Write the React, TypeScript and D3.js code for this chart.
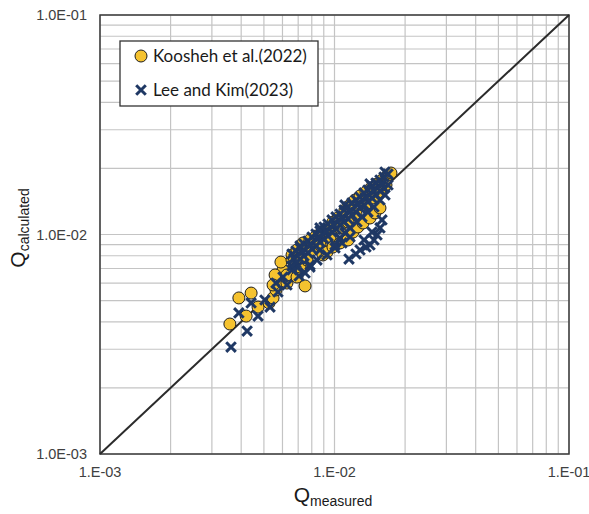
import React from "react";
import * as d3 from "d3";

// Koosheh et al.(2022): [Q_measured, Q_calculated]
const kooshehData: [number, number][] = [
  [0.00358, 0.00391], [0.00391, 0.00514], [0.0042, 0.00425], [0.00441, 0.00541],
  [0.00472, 0.00467], [0.00526, 0.00488], [0.00547, 0.00514], [0.00563, 0.00559],
  [0.00586, 0.00614], [0.00603, 0.00689], [0.00591, 0.00749], [0.00627, 0.00601],
  [0.00749, 0.00583], [0.00685, 0.00742],
  [0.00558, 0.00654], [0.00547, 0.00589], [0.00627, 0.00654], [0.00692, 0.0064],
  [0.00713, 0.00711], [0.00659, 0.00765], [0.00763, 0.00765], [0.00826, 0.00877],
  [0.00885, 0.00924], [0.00957, 0.00924],
  [0.00659, 0.00807], [0.00692, 0.0085], [0.00734, 0.00915], [0.00786, 0.00944],
  [0.00834, 0.00984], [0.00885, 0.01026], [0.00938, 0.01071], [0.00985, 0.0114],
  [0.01035, 0.01189], [0.01108, 0.01293], [0.01165, 0.01363], [0.01223, 0.01436],
  [0.01285, 0.01498], [0.01362, 0.01562], [0.01431, 0.01629], [0.01518, 0.01699],
  [0.01594, 0.01771], [0.01674, 0.01847], [0.01741, 0.01906],
  [0.00713, 0.00782], [0.00802, 0.0085], [0.00867, 0.00896], [0.00957, 0.00964],
  [0.01056, 0.01071], [0.01142, 0.0114], [0.01235, 0.0124], [0.01349, 0.01363],
  [0.01459, 0.01467], [0.01563, 0.01562], [0.01658, 0.01681],
  [0.00893, 0.00807], [0.00929, 0.00832], [0.00985, 0.00877], [0.01056, 0.00915],
  [0.01142, 0.00944], [0.01199, 0.01026], [0.01259, 0.01082], [0.01323, 0.01128],
  [0.01417, 0.01189], [0.01488, 0.01253], [0.01563, 0.01321],
];

// Lee and Kim(2023): [Q_measured, Q_calculated]
const leeKimData: [number, number][] = [
  [0.00362, 0.00307], [0.00424, 0.00363], [0.00391, 0.00439], [0.00441, 0.00488],
  [0.00472, 0.00425], [0.00531, 0.00467], [0.00627, 0.00589], [0.00574, 0.00547],
  [0.00505, 0.00503], [0.00603, 0.0064], [0.00659, 0.00689], [0.00563, 0.00601],
  [0.00706, 0.00647], [0.00786, 0.00726],
  [0.00692, 0.00711], [0.00749, 0.00668], [0.00786, 0.00711], [0.00842, 0.00765],
  [0.00929, 0.00807], [0.01005, 0.00868], [0.01076, 0.00915], [0.01165, 0.00974],
  [0.00867, 0.0085],
  [0.00713, 0.00887], [0.00867, 0.01071], [0.01108, 0.01363], [0.01417, 0.01699],
  [0.01642, 0.01926],
  [0.00659, 0.00815], [0.00659, 0.00719], [0.00685, 0.00841], [0.00685, 0.00742],
  [0.00713, 0.00868], [0.00713, 0.00773], [0.00741, 0.00905], [0.00741, 0.00798],
  [0.00771, 0.00934], [0.00771, 0.00824], [0.00802, 0.00974], [0.00802, 0.00859],
  [0.00834, 0.01005], [0.00834, 0.00887], [0.00867, 0.01037], [0.00867, 0.00924],
  [0.00902, 0.01082], [0.00902, 0.00954], [0.00938, 0.01116], [0.00938, 0.00984],
  [0.00976, 0.01165], [0.00976, 0.01026], [0.01015, 0.01202], [0.01015, 0.01059],
  [0.01056, 0.0124], [0.01056, 0.01105], [0.01098, 0.01293], [0.01098, 0.0114],
  [0.01142, 0.01335], [0.01142, 0.01177], [0.01187, 0.01392], [0.01187, 0.01227],
  [0.01235, 0.01436], [0.01235, 0.01266], [0.01285, 0.01482], [0.01285, 0.01321],
  [0.01336, 0.01546], [0.01336, 0.01363], [0.01389, 0.01595], [0.01389, 0.01407],
  [0.01445, 0.01663], [0.01445, 0.01467], [0.01503, 0.01716], [0.01503, 0.01514],
  [0.01563, 0.01771], [0.01563, 0.01579], [0.01626, 0.01828], [0.01626, 0.01629],
  [0.01691, 0.01886], [0.01691, 0.01681],
  [0.00672, 0.00777], [0.00727, 0.00834], [0.00786, 0.00896], [0.0085, 0.00962],
  [0.0092, 0.01033], [0.00995, 0.01109], [0.01076, 0.01192], [0.01165, 0.01279],
  [0.01259, 0.01374], [0.01362, 0.01476], [0.01473, 0.01585], [0.01594, 0.01702],
  [0.01005, 0.00896], [0.01056, 0.00964], [0.01108, 0.01016], [0.01165, 0.01071],
  [0.01247, 0.0114], [0.0131, 0.01202], [0.01389, 0.01266], [0.01473, 0.01335],
  [0.01563, 0.01436], [0.01642, 0.01514],
  [0.01153, 0.00773], [0.01235, 0.00815], [0.01285, 0.0085], [0.01362, 0.00877],
  [0.01417, 0.00896], [0.01473, 0.00944], [0.01518, 0.00995], [0.01563, 0.01071],
  [0.01594, 0.01165], [0.01336, 0.00944], [0.01445, 0.01026],
];

const xTickValues = [1e-3, 1e-2, 1e-1];
const xTickLabels = ["1.E-03", "1.E-02", "1.E-01"];
const yTickValues = [1e-3, 1e-2, 1e-1];
const yTickLabels = ["1.0E-03", "1.0E-02", "1.0E-01"];
const seriesNames = ["Koosheh et al.(2022)", "Lee and Kim(2023)"];

const W = 589;
const H = 514;
const plot = { left: 100, right: 569, top: 15, bottom: 454 };

const GOLD = "#F5C22F";
const NAVY = "#1F3864";
const CROSS = 4.8;
const CROSS_W = 3;
const R = 6;

function crossPath(cx: number, cy: number, s: number) {
  return `M${cx - s},${cy - s}L${cx + s},${cy + s}M${cx - s},${cy + s}L${cx + s},${cy - s}`;
}

export default function App() {
  const x = d3.scaleLog().domain([1e-3, 1e-1]).range([plot.left, plot.right]);
  const y = d3.scaleLog().domain([1e-3, 1e-1]).range([plot.bottom, plot.top]);

  const gridVals: number[] = [];
  for (const dec of [1e-3, 1e-2]) {
    for (let m = 1; m <= 9; m++) gridVals.push(dec * m);
  }
  gridVals.push(1e-1);

  return (
    <svg
      width={W}
      height={H}
      style={{ position: "absolute", left: 0, top: 0, background: "#fff" }}
      fontFamily="'Liberation Sans', Arial, sans-serif"
    >
      <rect x={0} y={0} width={W} height={H} fill="#fff" />
      {/* grid */}
      <g stroke="#c4c4c4" strokeWidth={1.2}>
        {gridVals.map((v, i) => (
          <line key={"gx" + i} x1={x(v)} x2={x(v)} y1={plot.top} y2={plot.bottom} />
        ))}
        {gridVals.map((v, i) => (
          <line key={"gy" + i} x1={plot.left} x2={plot.right} y1={y(v)} y2={y(v)} />
        ))}
      </g>
      {/* frame */}
      <rect
        x={plot.left}
        y={plot.top}
        width={plot.right - plot.left}
        height={plot.bottom - plot.top}
        fill="none"
        stroke="#3a3a3a"
        strokeWidth={1.5}
      />
      {/* 1:1 line */}
      <line x1={x(1e-3)} y1={y(1e-3)} x2={x(1e-1)} y2={y(1e-1)} stroke="#2b2b2b" strokeWidth={2} />
      {/* Koosheh circles */}
      <g>
        {kooshehData.map((d, i) => (
          <circle key={"k" + i} cx={x(d[0])} cy={y(d[1])} r={R} fill={GOLD} stroke="#1e1e1e" strokeWidth={1} />
        ))}
      </g>
      {/* Lee and Kim crosses */}
      <g stroke={NAVY} strokeWidth={CROSS_W} strokeLinecap="butt" fill="none">
        {leeKimData.map((d, i) => (
          <path key={"l" + i} d={crossPath(x(d[0]), y(d[1]), CROSS)} />
        ))}
      </g>
      {/* y tick labels */}
      <g fontSize={14.5} fill="#404040" textAnchor="end">
        {yTickValues.map((v, i) => (
          <text key={"yt" + i} x={87} y={y(v) + 5}>
            {yTickLabels[i]}
          </text>
        ))}
      </g>
      {/* x tick labels */}
      <g fontSize={14.5} fill="#404040" textAnchor="middle">
        {xTickValues.map((v, i) => (
          <text key={"xt" + i} x={x(v)} y={477}>
            {xTickLabels[i]}
          </text>
        ))}
      </g>
      {/* axis titles */}
      <text x={333} y={502} textAnchor="middle" fill="#1a1a1a" fontSize={21}>
        Q<tspan fontSize={14} dy={4}>measured</tspan>
      </text>
      <text
        transform={`translate(25,228) rotate(-90)`}
        textAnchor="middle"
        fill="#1a1a1a"
        fontSize={21}
      >
        Q<tspan fontSize={14} dy={4}>calculated</tspan>
      </text>
      {/* legend */}
      <g>
        <rect x={120} y={41} width={198} height={65} fill="#fff" stroke="#333" strokeWidth={1.3} />
        <circle cx={141} cy={56} r={R} fill={GOLD} stroke="#1e1e1e" strokeWidth={1} />
        <path d={crossPath(141, 90, CROSS)} stroke={NAVY} strokeWidth={CROSS_W} fill="none" />
        <text x={153} y={62} fontSize={17} fontFamily="Lato, 'Open Sans', sans-serif" fill="#1a1a1a">
          {seriesNames[0]}
        </text>
        <text x={153} y={96} fontSize={17} fontFamily="Lato, 'Open Sans', sans-serif" fill="#1a1a1a">
          {seriesNames[1]}
        </text>
      </g>
    </svg>
  );
}
